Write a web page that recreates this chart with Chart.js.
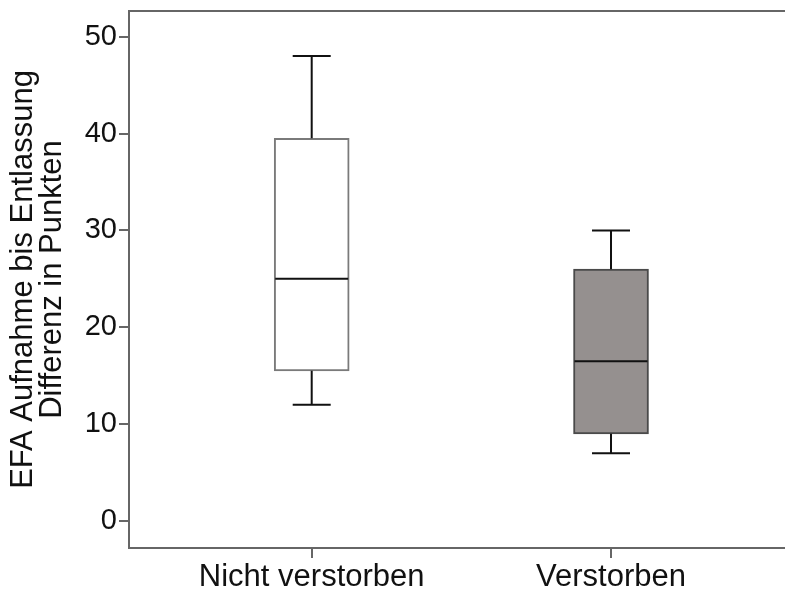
<!DOCTYPE html>
<html>
<head>
<meta charset="utf-8">
<script src="https://cdn.jsdelivr.net/npm/chart.js@4/dist/chart.umd.min.js"></script>
<style>
  html, body { margin: 0; padding: 0; background: #fff; }
  #wrap { width: 785px; height: 594px; }
</style>
</head>
<body>
<div id="wrap"><canvas id="c" width="785" height="594"></canvas></div>
<script>
// Box-plot summary per group
const categories = ['Nicht verstorben', 'Verstorben'];
const whiskerLow  = [12, 7];
const quartile1   = [15.5, 9];
const medians     = [25, 16.5];
const quartile3   = [39.5, 26];
const whiskerHigh = [48, 30];
const yTicks = [0, 10, 20, 30, 40, 50];

const boxFill   = ['#ffffff', '#95908f'];
const boxBorder = ['#7a7a7a', '#4a4a4a'];

const FONT = "'Liberation Sans', Arial, Helvetica, sans-serif";

// Whiskers, caps and median lines drawn on top of the boxes
const boxWhiskers = {
  id: 'boxWhiskers',
  afterDatasetsDraw(chart, args, opts) {
    const {ctx} = chart;
    const xs = chart.scales.x, ys = chart.scales.y;
    const meta = chart.getDatasetMeta(0);
    ctx.save();
    ctx.strokeStyle = opts.color;
    ctx.lineWidth = opts.lineWidth;
    ctx.lineCap = 'butt';
    categories.forEach((_, i) => {
      const cx = xs.getPixelForValue(i);
      const bar = meta.data[i];
      const half = bar.width / 2;
      const yMin = ys.getPixelForValue(whiskerLow[i]);
      const yQ1 = ys.getPixelForValue(quartile1[i]);
      const yMed = ys.getPixelForValue(medians[i]);
      const yQ3 = ys.getPixelForValue(quartile3[i]);
      const yMax = ys.getPixelForValue(whiskerHigh[i]);
      ctx.beginPath();
      // upper whisker + cap
      ctx.moveTo(cx, yQ3); ctx.lineTo(cx, yMax);
      ctx.moveTo(cx - opts.capHalf, yMax); ctx.lineTo(cx + opts.capHalf, yMax);
      // lower whisker + cap
      ctx.moveTo(cx, yQ1); ctx.lineTo(cx, yMin);
      ctx.moveTo(cx - opts.capHalf, yMin); ctx.lineTo(cx + opts.capHalf, yMin);
      // median
      ctx.moveTo(cx - half + 1, yMed); ctx.lineTo(cx + half - 1, yMed);
      ctx.stroke();
    });
    ctx.restore();
  }
};

new Chart(document.getElementById('c'), {
  type: 'bar',
  data: {
    datasets: [{
      data: categories.map((_, i) => ({x: i, y: [quartile1[i], quartile3[i]]})),
      backgroundColor: boxFill,
      borderColor: boxBorder,
      borderWidth: 2,
      borderSkipped: false,
      barThickness: 75,
      grouped: false
    }]
  },
  options: {
    responsive: false,
    animation: false,
    layout: { padding: 0 },
    plugins: {
      legend: { display: false },
      tooltip: { enabled: false },
      boxWhiskers: { color: '#111', lineWidth: 2, capHalf: 19 }
    },
    scales: {
      x: {
        type: 'linear',
        position: 'bottom',
        offset: false,
        min: -0.6104,
        max: 1.5813,
        afterBuildTicks: (axis) => { axis.ticks = categories.map((_, i) => ({value: i})); },
        afterFit: (axis) => { axis.height = 46; axis.paddingLeft = 0; axis.paddingRight = 0; },
        ticks: {
          callback: (v) => categories[v],
          font: { family: FONT, size: 31 },
          color: '#111',
          padding: 1,
          maxRotation: 0,
          autoSkip: false
        },
        grid: { offset: false, drawOnChartArea: false, drawTicks: true, tickLength: 10, color: '#666', lineWidth: 2 },
        border: { display: true, color: '#666', width: 2 }
      },
      xTop: {
        type: 'linear',
        position: 'top',
        offset: false,
        min: -0.6104,
        max: 1.5813,
        afterFit: (axis) => { axis.height = 11; axis.paddingLeft = 0; axis.paddingRight = 0; },
        ticks: { display: false },
        grid: { display: false },
        border: { display: true, color: '#666', width: 2 }
      },
      y: {
        type: 'linear',
        min: -2.79,
        max: 52.65,
        afterBuildTicks: (axis) => { axis.ticks = yTicks.map(v => ({value: v})); },
        afterFit: (axis) => { axis.width = 129; axis.paddingTop = 0; axis.paddingBottom = 0; },
        ticks: {
          font: { family: FONT, size: 29 },
          color: '#111',
          padding: 2
        },
        grid: { drawOnChartArea: false, drawTicks: true, tickLength: 10, color: '#666', lineWidth: 2 },
        border: { display: true, color: '#666', width: 2 },
        title: {
          display: true,
          text: ['EFA Aufnahme bis Entlassung', 'Differenz in Punkten'],
          font: { family: FONT, size: 31, lineHeight: 0.935 },
          color: '#111',
          padding: { top: 9, bottom: 0 }
        }
      }
    }
  },
  plugins: [boxWhiskers]
});
</script>
</body>
</html>
